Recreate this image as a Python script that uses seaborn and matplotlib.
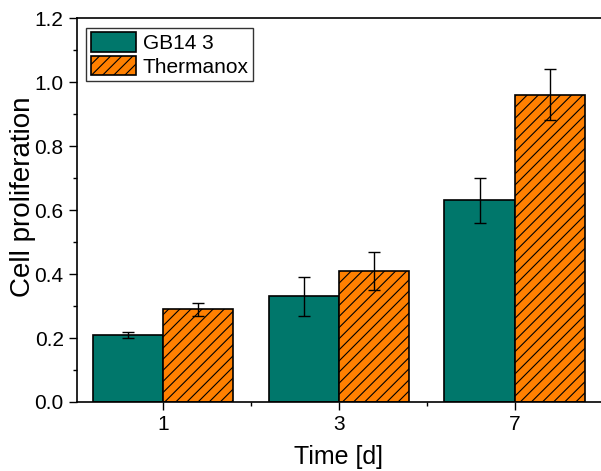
import numpy as np
import pandas as pd
import matplotlib
matplotlib.use("Agg")
import matplotlib.pyplot as plt
import seaborn as sns
from matplotlib.ticker import MultipleLocator, FormatStrFormatter

days = ["1", "3", "7"]
series = ["GB14 3", "Thermanox"]
gb14_mean = [0.21, 0.33, 0.63]
gb14_err = [0.01, 0.06, 0.07]
therm_mean = [0.29, 0.41, 0.96]
therm_err = [0.02, 0.06, 0.08]

df = pd.DataFrame({
    "day": days * 2,
    "sample": [series[0]] * 3 + [series[1]] * 3,
    "value": gb14_mean + therm_mean,
    "err": gb14_err + therm_err,
})

sns.set_style("ticks")
plt.rcParams["font.family"] = ["Liberation Sans", "DejaVu Sans"]
plt.rcParams["hatch.linewidth"] = 0.8
plt.rcParams["text.color"] = "black"
plt.rcParams["axes.labelcolor"] = "black"
plt.rcParams["xtick.color"] = "black"
plt.rcParams["ytick.color"] = "black"

fig = plt.figure(figsize=(6.01, 4.71), dpi=100)
ax = fig.add_axes([0.128, 0.1465, 0.872, 0.815])

colors = {"GB14 3": "#00776b", "Thermanox": "#ff8000"}
sns.barplot(data=df, x="day", y="value", hue="sample", order=days,
            hue_order=series, palette=colors, errorbar=None,
            width=0.8, edgecolor="black", linewidth=1.2, saturation=1, ax=ax)

# hatch the Thermanox bars, add error bars
for cont, name in zip(ax.containers, series):
    sub = df[df["sample"] == name].set_index("day").loc[days]
    xs = []
    for bar in cont:
        if name == "Thermanox":
            bar.set_hatch("///")
        xs.append(bar.get_x() + bar.get_width() / 2)
    ax.errorbar(xs, sub["value"], yerr=sub["err"], fmt="none",
                ecolor="black", elinewidth=1, capsize=4, capthick=1)

ax.set_ylim(0, 1.2)
ax.set_xlim(-0.49, 2.49)
ax.yaxis.set_major_locator(MultipleLocator(0.2))
ax.yaxis.set_minor_locator(MultipleLocator(0.1))
ax.yaxis.set_major_formatter(FormatStrFormatter("%.1f"))
ax.set_xticks([0, 1, 2])
ax.set_xticks([0.5, 1.5], minor=True)
ax.tick_params(axis="both", which="major", direction="out", length=6,
               width=1, labelsize=15)
ax.tick_params(axis="both", which="minor", direction="out", length=3,
               width=1)
for s in ["left", "bottom", "top"]:
    ax.spines[s].set_linewidth(1.2)
    ax.spines[s].set_color("black")
ax.spines["right"].set_visible(False)

ax.set_xlabel("Time [d]", fontsize=18, labelpad=8)
ax.set_ylabel("Cell proliferation", fontsize=20)
ax.yaxis.set_label_coords(-0.078, 0.535)

leg = ax.legend(loc="upper left", bbox_to_anchor=(0.01, 0.985), fontsize=15,
                frameon=True, fancybox=False, edgecolor="black",
                handlelength=2.2, handleheight=1.05, borderpad=0.2,
                labelspacing=0.15, handletextpad=0.3, borderaxespad=0.2)
leg.get_frame().set_linewidth(1)
leg.legend_handles[1].set_hatch("///")

fig.savefig("out.png", dpi=100)
